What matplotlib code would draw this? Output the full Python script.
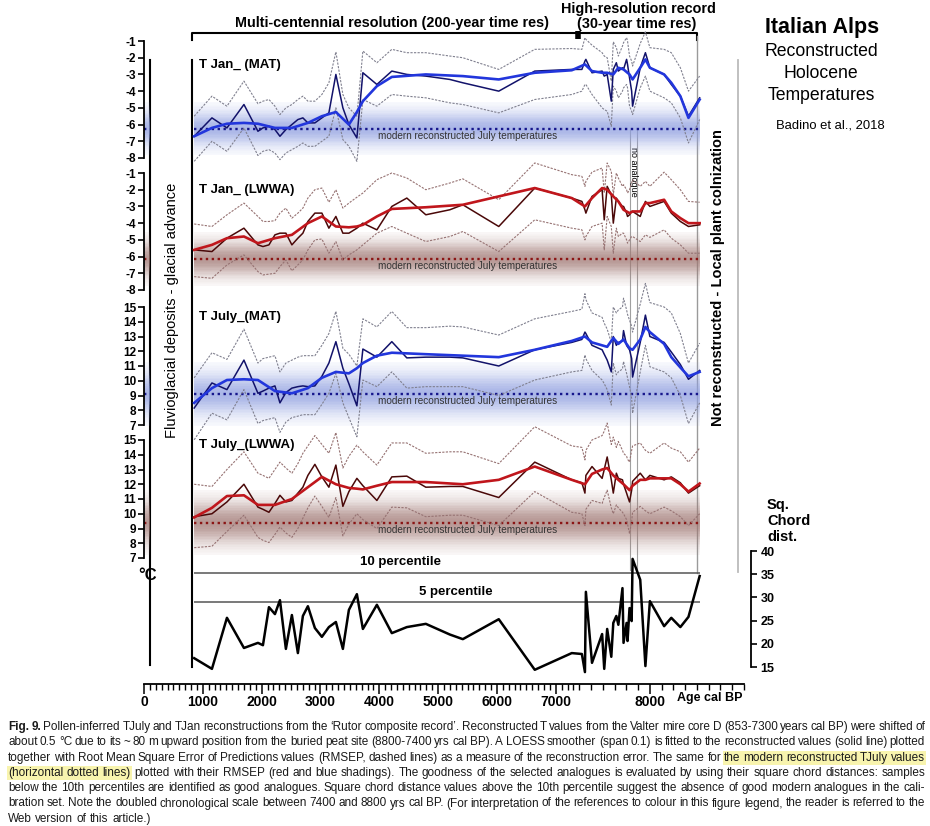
import numpy as np
import matplotlib
matplotlib.use("Agg")
import matplotlib.pyplot as plt
from matplotlib.patches import Rectangle
from matplotlib.ticker import FixedLocator

plt.rcParams['font.family'] = ['Liberation Sans', 'DejaVu Sans']

W, H = 930, 826

# ---- data (ages in yr cal BP) ----
AGES = [853, 1155, 1410, 1699, 1937, 2022, 2124, 2226, 2311, 2412, 2514, 2616, 2701,
        2786, 2905, 3024, 3143, 3262, 3381, 3483, 3619, 3721, 3959, 4213, 4468, 4791,
        5199, 5420, 6031, 6643, 7272,
        7422, 7448, 7456, 7508, 7594, 7612, 7637, 7672, 7689, 7715, 7732, 7767, 7776,
        7802, 7810, 7827, 7845, 7853, 7918, 7962, 8000, 8121, 8182, 8259, 8328, 8423]

SMOOTH_AGES = [853, 1155, 1410, 1699, 1937, 2226, 2514, 2786, 3024, 3262, 3483, 3619,
               3721, 3959, 4213, 4791, 5420, 6031, 6643, 7272, 7448, 7508, 7594, 7637,
               7689, 7732, 7776, 7827, 7853, 7918, 7962, 8000, 8121, 8182, 8259, 8328, 8423]

# T Jan (MAT)
JAN_MAT_RAW = [-6.7, -5.6, -6.2, -4.8, -6.4, -6.2, -6.1, -6.3, -6.7, -6.3, -6.0, -5.7, -5.6,
               -5.9, -5.9, -5.6, -5.3, -3.0, -5.0, -6.0, -6.8, -2.9, -3.6, -2.8, -3.0, -3.1,
               -3.3, -3.5, -4.0, -2.8, -2.7,
               -2.7, -2.2, -2.1, -2.9, -2.8, -3.1, -3.0, -4.6, -2.7, -2.3, -2.8, -2.6, -2.7,
               -2.1, -2.4, -3.2, -4.0, -4.9, -2.6, -1.7, -2.6, -3.0, -3.6, -4.3, -5.5, -4.4]
JAN_MAT_UP = [-5.5, -4.3, -4.9, -3.4, -4.75, -4.6, -4.5, -4.9, -5.4, -5.0, -4.8, -4.5, -4.3,
              -4.6, -4.6, -4.2, -3.5, -1.65, -4.2, -5.0, -5.5, -1.6, -2.3, -1.5, -1.7, -1.7,
              -1.9, -2.0, -2.7, -1.5, -1.45,
              -1.5, -0.8, -0.9, -1.25, -1.7, -1.9, -2.0, -3.4, -1.05, -1.4, -1.9, -1.3, -1.1,
              -0.8, -1.0, -1.9, -2.2, -2.5, -1.15, -0.45, -1.4, -1.5, -1.7, -2.6, -4.0, -3.1]
JAN_MAT_LO = [-8.2, -7.0, -7.6, -6.2, -7.85, -7.6, -7.5, -7.7, -8.1, -7.7, -7.5, -7.3, -7.1,
              -7.3, -7.3, -7.0, -6.7, -5.0, -6.9, -7.3, -8.2, -4.5, -4.9, -4.2, -4.3, -4.4,
              -4.7, -4.8, -5.3, -4.5, -4.2,
              -4.0, -3.6, -3.6, -4.2, -5.0, -5.1, -5.2, -6.1, -3.7, -4.0, -4.4, -4.0, -3.8,
              -3.6, -3.8, -4.9, -5.2, -5.4, -3.8, -3.1, -4.0, -4.4, -4.7, -5.6, -7.1, -5.7]
JAN_MAT_SMOOTH = [-6.7, -6.2, -5.95, -5.9, -5.95, -6.2, -6.2, -5.9, -5.5, -5.25, -6.0, -5.25,
                  -4.6, -3.7, -3.15, -3.0, -3.1, -3.3, -2.9, -2.75, -2.4, -2.8, -2.9, -2.9,
                  -3.0, -2.6, -2.7, -3.0, -3.3, -2.6, -2.1, -2.6, -3.0, -3.5, -4.3, -5.6, -4.5]

# T Jan (LWWA)
JAN_LWWA_RAW = [-5.6, -5.7, -4.9, -4.3, -5.3, -5.4, -5.3, -4.7, -4.6, -4.6, -5.3, -4.9, -4.6,
                -3.9, -3.4, -3.4, -4.3, -3.6, -4.6, -4.6, -4.3, -4.0, -4.4, -3.0, -2.5, -3.5,
                -3.2, -2.9, -4.2, -1.9, -2.5,
                -2.7, -3.2, -3.4, -2.4, -2.0, -3.8, -1.8, -2.3, -4.0, -2.5, -2.7, -3.0, -3.0,
                -3.4, -3.6, -3.5, -3.3, -3.3, -3.6, -2.7, -3.0, -2.7, -3.4, -3.9, -4.2, -4.1]
JAN_LWWA_UP = [-4.05, -4.2, -3.5, -2.8, -3.6, -3.9, -3.9, -3.85, -3.4, -3.1, -3.7, -3.4, -3.1,
               -2.5, -2.0, -1.9, -2.75, -2.0, -3.1, -2.8, -2.45, -2.2, -1.4, -1.0, -1.3, -2.0,
               -1.6, -1.35, -2.6, -0.4, -1.1,
               -1.2, -1.8, -1.5, -0.95, -0.7, -2.2, -0.4, -0.9, -2.3, -1.0, -1.3, -1.8, -1.7,
               -2.0, -2.2, -2.0, -1.6, -1.4, -1.8, -1.5, -1.8, -0.95, -1.4, -2.0, -2.7, -2.75]
JAN_LWWA_LO = [-7.2, -7.3, -6.5, -5.9, -6.9, -7.1, -7.05, -7.0, -6.6, -6.2, -6.85, -6.5, -6.2,
               -5.6, -5.0, -4.95, -5.8, -5.1, -6.2, -5.9, -5.6, -5.3, -4.6, -4.2, -4.6, -5.1,
               -4.8, -4.5, -5.7, -3.8, -4.3,
               -4.4, -5.0, -4.8, -4.2, -4.0, -5.6, -3.6, -4.2, -5.8, -4.3, -4.8, -4.6, -4.6,
               -5.0, -5.2, -5.0, -4.8, -4.8, -5.1, -4.7, -4.85, -4.4, -4.9, -5.3, -5.8, -5.8]
JAN_LWWA_SMOOTH = [-5.6, -5.3, -4.9, -4.8, -5.2, -4.9, -4.7, -4.0, -3.6, -4.2, -4.25, -4.2,
                   -4.1, -3.6, -3.15, -3.05, -2.9, -2.4, -1.9, -2.5, -3.0, -2.5, -1.9, -2.0,
                   -2.4, -2.7, -3.2, -3.4, -3.3, -3.3, -2.8, -2.8, -2.6, -3.3, -3.7, -4.0, -4.0]

# T July (MAT)
JUL_MAT_RAW = [8.15, 9.85, 9.4, 11.4, 9.15, 9.3, 9.5, 9.65, 8.5, 9.2, 9.5, 9.6, 9.65,
               9.6, 9.65, 10.3, 11.2, 12.65, 10.85, 9.8, 8.3, 12.15, 11.6, 12.65, 11.55, 11.6,
               11.6, 11.55, 11.0, 12.1, 12.6,
               12.8, 13.3, 13.2, 12.4, 12.1, 11.8, 11.4, 10.6, 13.0, 12.4, 12.6, 12.7, 13.4,
               12.4, 12.3, 12.1, 11.5, 10.25, 12.6, 14.45, 13.0, 12.6, 11.95, 11.1, 10.1, 10.7]
JUL_MAT_UP = [10.2, 11.9, 11.45, 13.5, 11.2, 11.5, 11.6, 11.7, 10.6, 11.2, 11.4, 11.6, 11.7,
              11.7, 11.7, 12.4, 13.2, 14.7, 12.2, 11.8, 11.0, 14.2, 13.65, 14.7, 13.6, 13.6,
              13.7, 13.65, 13.1, 14.2, 14.7,
              14.85, 15.9, 15.5, 14.6, 14.3, 13.9, 13.5, 12.6, 15.0, 14.6, 14.8, 15.0, 15.6,
              14.8, 14.5, 14.1, 13.7, 13.3, 15.2, 16.6, 15.3, 15.0, 14.6, 13.2, 11.2, 12.55]
JUL_MAT_LO = [6.0, 7.8, 7.35, 9.4, 7.1, 7.3, 7.4, 7.5, 6.5, 7.2, 7.5, 7.6, 7.7,
              7.7, 7.7, 8.4, 9.15, 10.5, 8.5, 7.5, 6.2, 10.05, 9.6, 10.6, 9.5, 9.6,
              9.6, 9.6, 9.0, 10.05, 10.6,
              10.7, 11.75, 11.5, 10.7, 10.05, 9.8, 9.4, 8.35, 11.2, 10.4, 10.6, 10.8, 11.3,
              10.5, 10.2, 9.6, 8.8, 7.8, 10.6, 12.4, 10.95, 10.6, 10.2, 9.0, 7.1, 8.5]
JUL_MAT_SMOOTH = [8.5, 9.5, 10.05, 10.1, 10.05, 9.3, 9.15, 9.5, 10.2, 10.6, 10.5, 10.85,
                  11.2, 11.7, 11.9, 11.8, 11.7, 11.6, 12.1, 12.7, 13.0, 12.6, 12.4, 12.3,
                  12.9, 12.5, 12.8, 12.2, 12.1, 12.8, 13.65, 13.3, 12.5, 11.6, 10.9, 10.3, 10.6]

# T July (LWWA)
JUL_LWWA_RAW = [9.8, 10.0, 10.8, 12.0, 10.45, 10.3, 10.1, 10.7, 11.25, 10.8, 10.9, 11.4, 11.8,
                12.6, 13.35, 12.5, 11.8, 13.3, 10.5, 11.5, 12.4, 11.9, 10.9, 12.5, 12.55, 11.8,
                11.85, 11.85, 11.1, 13.5, 12.3,
                12.1, 11.4, 12.6, 13.2, 12.4, 13.0, 13.85, 12.3, 11.4, 12.75, 12.4, 12.3, 12.0,
                11.4, 11.2, 10.8, 11.6, 12.2, 12.75, 12.3, 12.6, 12.3, 12.5, 12.1, 11.4, 11.9]
JUL_LWWA_UP = [12.0, 11.85, 13.0, 14.2, 12.75, 12.6, 12.4, 13.0, 13.5, 13.1, 12.75, 13.4, 14.1,
               14.6, 15.3, 14.7, 14.1, 15.5, 13.1, 13.9, 14.65, 14.2, 13.3, 14.8, 14.8, 14.1,
               14.2, 14.2, 13.4, 15.9, 14.6,
               14.5, 13.65, 14.3, 15.0, 15.3, 15.6, 16.15, 14.7, 15.2, 14.5, 14.9, 14.3, 14.1,
               13.9, 13.7, 13.5, 14.3, 14.6, 14.8, 14.3, 14.1, 14.8, 14.45, 14.2, 13.5, 14.45]
JUL_LWWA_LO = [7.7, 7.8, 8.8, 9.9, 8.4, 8.2, 8.05, 8.6, 9.1, 8.7, 8.4, 9.0, 9.7,
               10.4, 11.2, 10.5, 9.75, 11.1, 8.5, 9.3, 10.0, 9.6, 9.0, 10.45, 10.4, 9.8,
               9.9, 9.9, 9.2, 11.5, 10.1,
               10.0, 9.2, 10.3, 10.9, 10.7, 11.1, 11.6, 10.4, 10.0, 10.6, 10.4, 10.1, 10.0,
               9.6, 9.3, 8.65, 9.5, 10.1, 10.5, 10.2, 10.0, 10.45, 10.2, 9.8, 9.2, 10.0]
JUL_LWWA_SMOOTH = [9.75, 10.4, 11.2, 11.25, 10.6, 10.6, 11.0, 11.8, 12.5, 12.0, 11.75, 11.7,
                   11.65, 11.9, 12.15, 12.15, 12.0, 12.3, 13.2, 12.3, 12.0, 12.7, 13.0, 13.1,
                   12.6, 12.3, 12.0, 11.6, 11.9, 12.3, 12.3, 12.4, 12.4, 12.4, 12.0, 11.5, 12.05]

# modern reconstructed values and their RMSEP half-width (shading)
MODERN = [-6.25, -6.15, 9.1, 9.4]
MODERN_RMSEP = [1.6, 1.6, 2.2, 2.2]

# square chord distance
CHORD = [16.9, 14.6, 25.6, 19.1, 20.2, 19.7, 27.9, 26.4, 29.4, 18.9, 26.2, 18.0, 26.0,
         28.1, 23.4, 21.5, 23.6, 24.7, 18.9, 27.3, 30.7, 23.2, 28.4, 22.3, 23.6, 24.3,
         22.0, 21.0, 25.3, 14.4, 18.0,
         17.8, 13.9, 31.2, 15.9, 22.1, 14.6, 23.2, 17.2, 24.5, 26.0, 24.1, 32.0, 20.2,
         24.5, 20.6, 27.7, 24.9, 38.3, 33.8, 15.2, 29.2, 23.8, 25.6, 23.6, 25.8, 34.6]
P10 = 35.3
P05 = 29.0

AGE_TICKS = [0, 1000, 2000, 3000, 4000, 5000, 6000, 7000, 8000]


# doubled chronological scale after 7400 yr
def fwd(t):
    t = np.asarray(t, dtype=float)
    return np.where(t <= 7400, t, 7400 + 2.0 * (t - 7400))


def inv(u):
    u = np.asarray(u, dtype=float)
    return np.where(u <= 7400, u, 7400 + (u - 7400) / 2.0)


def rect(x0, y0, x1, y1):
    return [x0 / W, 1 - y1 / H, (x1 - x0) / W, (y1 - y0) / H]


def band(ax, x0, x1, c, hw, color):
    edges = np.linspace(c - hw, c + hw, 41)
    for a, b in zip(edges[:-1], edges[1:]):
        d = abs((a + b) / 2 - c) / hw
        al = 0.75 * np.exp(-(d / 0.62) ** 2)
        ax.fill_between([x0, x1], a, b, color=color, alpha=al, lw=0,
                        antialiased=False, clip_on=False, zorder=1)


fig = plt.figure(figsize=(W / 100, H / 100), dpi=100)

# overlay in pixel coordinates for frame lines and free text
ov = fig.add_axes([0, 0, 1, 1])
ov.set_xlim(0, W)
ov.set_ylim(H, 0)
ov.axis('off')
ov.patch.set_alpha(0)

AX_L, AX_R = 144, 744
X0, X1 = AGES[0], AGES[-1]

panels = [
    ("T Jan_ (MAT)", JAN_MAT_RAW, JAN_MAT_UP, JAN_MAT_LO, JAN_MAT_SMOOTH, (-8, -1), 41, 158, 'blue'),
    ("T Jan_ (LWWA)", JAN_LWWA_RAW, JAN_LWWA_UP, JAN_LWWA_LO, JAN_LWWA_SMOOTH, (-8, -1), 173, 290, 'red'),
    ("T July_(MAT)", JUL_MAT_RAW, JUL_MAT_UP, JUL_MAT_LO, JUL_MAT_SMOOTH, (7, 15), 307, 425, 'blue'),
    ("T July_(LWWA)", JUL_LWWA_RAW, JUL_LWWA_UP, JUL_LWWA_LO, JUL_LWWA_SMOOTH, (7, 15), 440, 558, 'red'),
]
styles = {
    'blue': dict(raw='#12126a', smooth='#2236dc', dash='#80808f', band='#8f9fe0', modern='#16168c'),
    'red': dict(raw='#4a0808', smooth='#c0161c', dash='#967272', band='#a07873', modern='#8b1515'),
}

for i, (label, raw, up, lo, sm, ylim, top, bot, kind) in enumerate(panels):
    st = styles[kind]
    ax = fig.add_axes(rect(AX_L, top, AX_R, bot))
    ax.patch.set_alpha(0)
    ax.set_xscale('function', functions=(fwd, inv))
    ax.set_xlim(0, 8800)
    ax.set_ylim(*ylim)
    for s in ['top', 'right', 'bottom']:
        ax.spines[s].set_visible(False)
    ax.spines['left'].set_linewidth(1.3)
    ax.xaxis.set_visible(False)
    ticks = list(range(ylim[1], ylim[0] - 1, -1))
    ax.set_yticks(ticks, [str(t) for t in ticks], fontweight='bold', fontsize=8.5)
    ax.tick_params(axis='y', direction='out', length=4, width=1.2, pad=1.5)

    m, hw = MODERN[i], MODERN_RMSEP[i]
    band(ax, X0, X1, m, hw, st['band'])
    band(ax, 0, 110, m, hw, st['band'])
    ax.plot([X0, X1], [m, m], ls=(0, (1, 1.5)), lw=1.7, color=st['modern'], clip_on=False, zorder=2)
    ax.plot([0, 110], [m, m], ls=(0, (1, 1.5)), lw=1.7, color=st['modern'], clip_on=False, zorder=2)
    ax.annotate('modern reconstructed July temperatures', xy=(5508, m), xytext=(0, -5.2),
                textcoords='offset points', ha='center', va='center', fontsize=7.2,
                color='#333333', annotation_clip=False, zorder=6)

    ax.plot(AGES, up, ls=(0, (2, 1.2)), lw=0.8, color=st['dash'], clip_on=False, zorder=3)
    ax.plot(AGES, lo, ls=(0, (2, 1.2)), lw=0.8, color=st['dash'], clip_on=False, zorder=3)
    ax.plot(AGES, raw, lw=1.1, color=st['raw'], clip_on=False, zorder=4)
    ax.plot(SMOOTH_AGES, sm, lw=1.9, color=st['smooth'], clip_on=False, zorder=5)

    ov.text(199, [65, 190, 317, 445][i], label, fontsize=9.5, fontweight='bold', ha='left', va='center')

# square chord distance panel
axc = fig.add_axes(rect(AX_L, 551, AX_R, 676))
axc.patch.set_alpha(0)
axc.set_xscale('function', functions=(fwd, inv))
axc.set_xlim(0, 8800)
axc.set_ylim(15 - 9 * 25 / 116, 40)
axc.spines['top'].set_visible(False)
axc.spines['left'].set_visible(False)
axc.spines['right'].set_position(('outward', 5))
axc.spines['right'].set_bounds(15, 40)
axc.spines['right'].set_linewidth(1.3)
axc.spines['bottom'].set_position(('outward', 6))
axc.spines['bottom'].set_linewidth(1.3)
axc.yaxis.tick_right()
axc.set_yticks([15, 20, 25, 30, 35, 40], ['15', '20', '25', '30', '35', '40'], fontweight='bold', fontsize=9)
axc.tick_params(axis='y', direction='out', length=4, width=1.2, pad=3)
axc.xaxis.set_major_locator(FixedLocator(AGE_TICKS))
axc.xaxis.set_minor_locator(FixedLocator(list(range(0, 8801, 100))))
axc.set_xticklabels([str(t) for t in AGE_TICKS], fontweight='bold', fontsize=10)
axc.tick_params(axis='x', which='major', direction='out', length=7, width=1.1, pad=1)
axc.tick_params(axis='x', which='minor', direction='out', length=4, width=1.0)

axc.hlines([P10, P05], X0, X1, colors='#555555', lw=1.1, zorder=2)
axc.text(4352, 37.6, '10 percentile', ha='center', va='center', fontsize=9.5, fontweight='bold')
axc.text(5304, 31.2, '5 percentile', ha='center', va='center', fontsize=9.5, fontweight='bold')
axc.plot(AGES, CHORD, color='black', lw=1.8, clip_on=False, zorder=4)

# frame lines, bracket, labels
ov.plot([150, 150], [60, 665], color='black', lw=1.5)
ov.plot([192, 192], [60, 667], color='black', lw=1.5)
ov.plot([192, 192, 697, 697], [40, 33, 33, 40], color='black', lw=1.5)
ov.plot([578, 578], [31, 39], color='black', lw=4, solid_capstyle='butt')
ov.plot([697, 697], [36, 573], color='#9a9a9a', lw=1.0)
ov.plot([738, 738], [60, 572], color='#bbbbbb', lw=1.3)
ov.plot([630, 630], [130, 570], color='#a0a0a0', lw=0.8)
ov.plot([637, 637], [130, 570], color='#a0a0a0', lw=0.8)
ov.text(633.5, 172, 'no analogue', rotation=270, ha='center', va='center', fontsize=6.5)

ov.text(392, 23, 'Multi-centennial resolution (200-year time res)', ha='center', va='center',
        fontsize=10.4, fontweight='bold')
ov.text(638, 9, 'High-resolution record', ha='center', va='center', fontsize=10.4, fontweight='bold')
ov.text(637, 24, '(30-year time res)', ha='center', va='center', fontsize=10.4, fontweight='bold')

ov.text(822, 28, 'Italian Alps', ha='center', va='center', fontsize=15.5, fontweight='bold')
ov.text(821, 51, 'Reconstructed', ha='center', va='center', fontsize=12.7)
ov.text(821, 73, 'Holocene', ha='center', va='center', fontsize=12.7)
ov.text(821, 95, 'Temperatures', ha='center', va='center', fontsize=12.7)
ov.text(830, 126, 'Badino et al., 2018', ha='center', va='center', fontsize=9.4)

ov.text(172, 310, 'Fluvioglacial deposits - glacial advance', rotation=90, ha='center',
        va='center', fontsize=10.5)
ov.text(718, 278, 'Not reconstructed - Local plant colnization', rotation=90, ha='center',
        va='center', fontsize=10.5, fontweight='bold')
ov.text(148, 576, '°C', ha='center', va='center', fontsize=12, fontweight='bold')
for yy, s in zip([505, 521, 537], ['Sq.', 'Chord', 'dist.']):
    ov.text(767, yy, s, ha='left', va='center', fontsize=10.5, fontweight='bold')
ov.text(710, 698, 'Age cal BP', ha='center', va='center', fontsize=9, fontweight='bold')

# caption, justified
CAPTION = [
    "Fig. 9. Pollen-inferred TJuly and TJan reconstructions from the \u2018Rutor composite record\u2019. Reconstructed T values from the Valter mire core D (853-7300 years cal BP) were shifted of",
    "about 0.5 \u00b0C due to its ~ 80 m upward position from the buried peat site (8800-7400 yrs cal BP). A LOESS smoother (span 0.1) is fitted to the reconstructed values (solid line) plotted",
    "together with Root Mean Square Error of Predictions values (RMSEP, dashed lines) as a measure of the reconstruction error. The same for the modern reconstructed TJuly values",
    "(horizontal dotted lines) plotted with their RMSEP (red and blue shadings). The goodness of the selected analogues is evaluated by using their square chord distances: samples",
    "below the 10th percentiles are identified as good analogues. Square chord distance values above the 10th percentile suggest the absence of good modern analogues in the cali-",
    "bration set. Note the doubled chronological scale between 7400 and 8800 yrs cal BP. (For interpretation of the references to colour in this figure legend, the reader is referred to the",
    "Web version of this article.)",
]
HIGHLIGHT = {2: (-5, None), 3: (0, 3)}
CAP_Y0, CAP_DY = 727, 15.3
CAP_X0, CAP_X1 = 8, 925
CAP_FONT = ['Liberation Sans Narrow', 'Liberation Sans']
CAP_FS = 8.5

renderer = fig.canvas.get_renderer()
for li, line in enumerate(CAPTION):
    y = CAP_Y0 + li * CAP_DY
    words = line.split(' ')
    arts = []
    for wi, w in enumerate(words):
        bold = (li == 0 and wi < 2)
        t = fig.text(0, 1 - y / H, w, fontsize=CAP_FS, family=CAP_FONT, ha='left', va='center',
                     fontweight='bold' if bold else 'normal', color='#1a1a1a', zorder=5)
        arts.append(t)
    widths = [t.get_window_extent(renderer).width for t in arts]
    if li < len(CAPTION) - 1:
        gap = (CAP_X1 - CAP_X0 - sum(widths)) / (len(words) - 1)
    else:
        gap = 3.5
    x = CAP_X0
    spans = []
    for t, w in zip(arts, widths):
        t.set_x(x / W)
        spans.append((x, x + w))
        x += w + gap
    if li in HIGHLIGHT:
        a, b = HIGHLIGHT[li]
        sel = spans[a:b]
        ov.add_patch(Rectangle((sel[0][0] - 1, y - 7), sel[-1][1] - sel[0][0] + 2, 14,
                               facecolor='#f8f4ae', edgecolor='none', zorder=0))

fig.savefig('out.png', dpi=100)
